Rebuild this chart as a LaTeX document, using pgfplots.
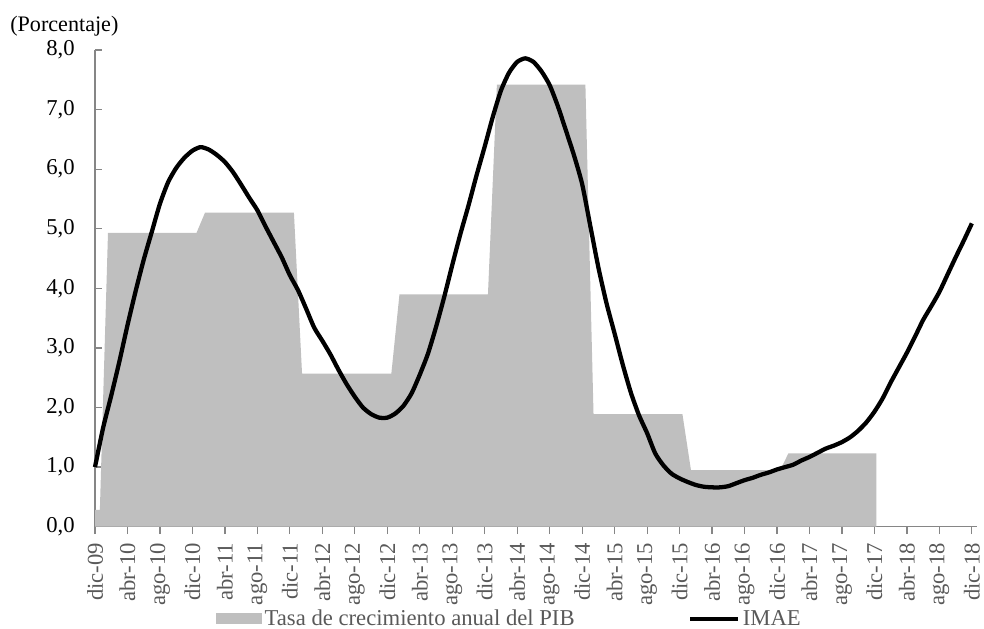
\documentclass[border=0pt]{standalone}
\usepackage{pgfplots}
\pgfplotsset{compat=1.18}
\usepackage{fontspec}
\setmainfont{Liberation Serif}
\definecolor{areagray}{RGB}{191,191,191}
\definecolor{axgray}{RGB}{134,134,134}
\definecolor{labgray}{RGB}{89,89,89}
\begin{document}
\begin{tikzpicture}
\path[use as bounding box] (-71.25pt,-76.725pt) rectangle (666.75pt,395pt);
\begin{axis}[
  at={(0pt,0pt)}, anchor=south west,
  scale only axis,
  width=661.3pt, height=357.5pt,
  xmin=0, xmax=108.6, ymin=0, ymax=8,
  clip=false,
  axis x line*=bottom, axis y line*=left,
  axis line style={axgray, line width=0.9pt},
  tick align=inside,
  major tick length=5.5pt,
  tick style={axgray, line width=0.9pt},
  xtick style={yshift=-5.5pt},
  xtick={0,4,...,108},
  xticklabels={dic-09,abr-10,ago-10,dic-10,abr-11,ago-11,dic-11,abr-12,ago-12,dic-12,abr-13,ago-13,dic-13,abr-14,ago-14,dic-14,abr-15,ago-15,dic-15,abr-16,ago-16,dic-16,abr-17,ago-17,dic-17,abr-18,ago-18,dic-18},
  xticklabel style={rotate=90, anchor=east, inner sep=0pt, text=labgray, font=\fontsize{17}{20}\selectfont},
  xticklabel shift=12pt,
  ytick={0,1,...,8},
  yticklabels={{0,0},{1,0},{2,0},{3,0},{4,0},{5,0},{6,0},{7,0},{8,0}},
  yticklabel style={anchor=east, inner sep=0pt, text=black, font=\fontsize{17}{20}\selectfont},
  yticklabel shift=15pt,
  legend columns=2,
  legend style={at={(0.1372,-0.193)}, anchor=west, draw=none, fill=none,
    inner sep=0pt, outer sep=0pt, text=labgray,
    font=\fontsize{17}{20}\selectfont,
    /tikz/every even column/.append style={column sep=83pt}},
  legend cell align=left,
]
\addplot[fill=areagray, draw=none,
  legend image code/.code={\fill[areagray] (0pt,-4pt) rectangle (34.5pt,4pt);}]
  coordinates {
  (0,0.28) (0.6,0.28) (1.6,4.93) (12.5,4.93) (13.55,5.27) (24.5,5.27)
  (25.5,2.57) (36.5,2.57) (37.5,3.90) (48.4,3.90) (49.5,7.42) (60.4,7.42)
  (61.4,1.89) (72.35,1.89) (73.4,0.95) (84.4,0.95) (85.4,1.23) (96.25,1.23)
  (96.25,0)
  } \closedcycle;
\addlegendentry{Tasa de crecimiento anual del PIB}
\addplot[black, line width=3.2pt, line join=round, smooth, tension=0.4,
  legend image code/.code={\draw[black, line width=3.2pt] (0pt,0pt) -- (36pt,0pt);}]
  table[row sep=\\] {
  x y \\
  0 1.00 \\ 1 1.66 \\ 2 2.20 \\ 3 2.77 \\ 4 3.38 \\ 5 3.95 \\ 6 4.48 \\ 7 4.95 \\
  8 5.42 \\ 9 5.78 \\ 10 6.02 \\ 11 6.19 \\ 12 6.31 \\ 13 6.37 \\ 14 6.33 \\ 15 6.24 \\
  16 6.12 \\ 17 5.95 \\ 18 5.74 \\ 19 5.52 \\ 20 5.31 \\ 21 5.04 \\ 22 4.78 \\ 23 4.52 \\
  24 4.22 \\ 25 3.97 \\ 26 3.66 \\ 27 3.34 \\ 28 3.12 \\ 29 2.89 \\ 30 2.63 \\ 31 2.39 \\
  32 2.18 \\ 33 2.00 \\ 34 1.89 \\ 35 1.83 \\ 36 1.83 \\ 37 1.90 \\ 38 2.03 \\ 39 2.24 \\
  40 2.55 \\ 41 2.90 \\ 42 3.35 \\ 43 3.85 \\ 44 4.39 \\ 45 4.91 \\ 46 5.39 \\ 47 5.90 \\
  48 6.38 \\ 49 6.88 \\ 50 7.32 \\ 51 7.62 \\ 52 7.80 \\ 53 7.86 \\ 54 7.80 \\ 55 7.64 \\
  56 7.41 \\ 57 7.06 \\ 58 6.65 \\ 59 6.23 \\ 60 5.75 \\ 61 5.05 \\ 62 4.35 \\ 63 3.75 \\
  64 3.24 \\ 65 2.72 \\ 66 2.25 \\ 67 1.87 \\ 68 1.57 \\ 69 1.23 \\ 70 1.03 \\ 71 0.89 \\
  72 0.81 \\ 73 0.75 \\ 74 0.70 \\ 75 0.67 \\ 76 0.66 \\ 77 0.66 \\ 78 0.68 \\ 79 0.73 \\
  80 0.78 \\ 81 0.82 \\ 82 0.87 \\ 83 0.91 \\ 84 0.96 \\ 85 1.00 \\ 86 1.04 \\ 87 1.11 \\
  88 1.17 \\ 89 1.24 \\ 90 1.31 \\ 91 1.36 \\ 92 1.42 \\ 93 1.50 \\ 94 1.61 \\ 95 1.75 \\
  96 1.93 \\ 97 2.15 \\ 98 2.42 \\ 99 2.67 \\ 100 2.92 \\ 101 3.19 \\ 102 3.47 \\ 103 3.70 \\
  104 3.94 \\ 105 4.23 \\ 106 4.52 \\ 107 4.80 \\ 108 5.09 \\
  };
\addlegendentry{IMAE}
\end{axis}
\node[anchor=base west, inner sep=0pt, font=\fontsize{16.6}{20}\selectfont] at (-63.75pt,371.25pt) {(Porcentaje)};
\end{tikzpicture}
\end{document}
